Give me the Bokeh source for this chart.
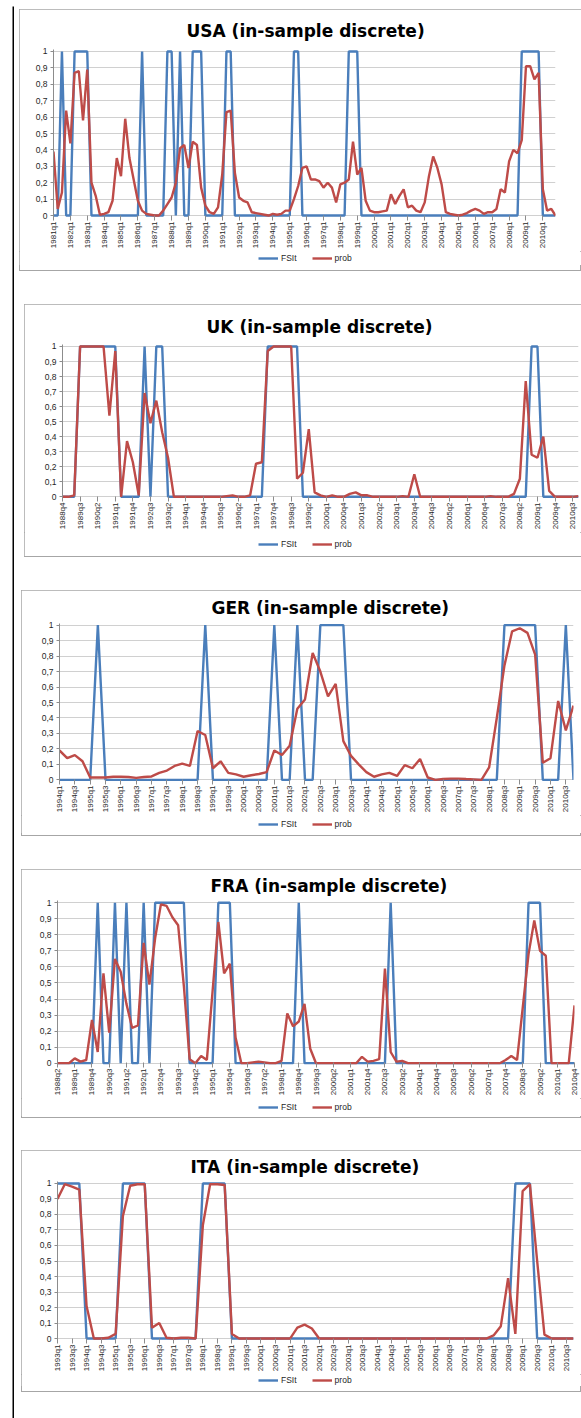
import math
from bokeh.plotting import figure
from bokeh.models import (Range1d, FixedTicker, CustomJSTickFormatter, Legend,
                          LegendItem, ColumnDataSource, Spacer)
from bokeh.layouts import column, row
from bokeh.embed import file_html
from bokeh.resources import INLINE

# ---------------- data ----------------
usa_start = (1981, 1)
usa_prob = [0.39, 0.04, 0.14, 0.64, 0.44, 0.87, 0.88, 0.58, 0.89, 0.20,
            0.12, 0.005, 0.01, 0.02, 0.09, 0.35, 0.24, 0.59, 0.35, 0.22,
            0.09, 0.03, 0.01, 0.005, 0.0, 0.0, 0.03, 0.07, 0.11, 0.20,
            0.41, 0.43, 0.29, 0.45, 0.43, 0.17, 0.06, 0.02, 0.01, 0.05,
            0.25, 0.63, 0.64, 0.26, 0.11, 0.09, 0.08, 0.02, 0.015, 0.01,
            0.005, 0.0, 0.01, 0.005, 0.01, 0.03, 0.03, 0.10, 0.18, 0.29,
            0.30, 0.22, 0.22, 0.21, 0.17, 0.20, 0.17, 0.08, 0.19, 0.20,
            0.22, 0.45, 0.25, 0.29, 0.09, 0.03, 0.02, 0.02, 0.025, 0.03,
            0.13, 0.07, 0.12, 0.16, 0.05, 0.06, 0.03, 0.02, 0.08, 0.24,
            0.36, 0.29, 0.19, 0.02, 0.01, 0.005, 0.0, 0.005, 0.015, 0.03,
            0.04, 0.03, 0.01, 0.02, 0.02, 0.04, 0.16, 0.14, 0.33, 0.40,
            0.38, 0.46, 0.91, 0.91, 0.83, 0.87, 0.16, 0.03, 0.04, 0.0]
usa_fsi = [0, 0, 1, 0, 0, 1, 1, 1, 1, 0,
           0, 0, 0, 0, 0, 0, 0, 0, 0, 0,
           0, 1, 0, 0, 0, 0, 0, 1, 1, 0,
           1, 0, 0, 1, 1, 1, 0, 0, 0, 0,
           0, 1, 1, 0, 0, 0, 0, 0, 0, 0,
           0, 0, 0, 0, 0, 0, 0, 1, 1, 0,
           0, 0, 0, 0, 0, 0, 0, 0, 0, 0,
           1, 1, 1, 0, 0, 0, 0, 0, 0, 0,
           0, 0, 0, 0, 0, 0, 0, 0, 0, 0,
           0, 0, 0, 0, 0, 0, 0, 0, 0, 0,
           0, 0, 0, 0, 0, 0, 0, 0, 0, 0,
           0, 1, 1, 1, 1, 1, 0, 0, 0, 0]

uk_start = (1988, 4)
uk_prob = [0, 0, 0.01, 1, 1, 1, 1, 1, 0.54, 0.97,
           0, 0.37, 0.23, 0.01, 0.69, 0.49, 0.64, 0.43, 0.26, 0,
           0, 0, 0, 0, 0, 0, 0, 0, 0.005, 0.01,
           0, 0, 0.01, 0.22, 0.23, 0.97, 1, 1, 1, 1,
           0.12, 0.16, 0.45, 0.03, 0.01, 0, 0.01, 0, 0, 0.02,
           0.03, 0.01, 0.01, 0, 0, 0, 0, 0, 0.005, 0,
           0.15, 0, 0, 0, 0, 0, 0, 0, 0, 0,
           0, 0, 0, 0.005, 0, 0, 0, 0.02, 0.12, 0.77,
           0.28, 0.26, 0.40, 0.04, 0, 0, 0, 0, 0.005]
uk_fsi = [0, 0, 0, 1, 1, 1, 1, 1, 1, 1,
          0, 0, 0, 0, 1, 0, 1, 1, 0, 0,
          0, 0, 0, 0, 0, 0, 0, 0, 0, 0,
          0, 0, 0, 0, 0, 1, 1, 1, 1, 1,
          1, 0, 0, 0, 0, 0, 0, 0, 0, 0,
          0, 0, 0, 0, 0, 0, 0, 0, 0, 0,
          0, 0, 0, 0, 0, 0, 0, 0, 0, 0,
          0, 0, 0, 0, 0, 0, 0, 0, 0, 0,
          1, 1, 0, 0, 0, 0, 0, 0, 0]

ger_start = (1994, 1)
ger_prob = [0.19, 0.14, 0.16, 0.12, 0.015, 0.015, 0.015, 0.02, 0.02, 0.018,
            0.013, 0.018, 0.022, 0.045, 0.06, 0.09, 0.105, 0.09, 0.315, 0.29,
            0.075, 0.12, 0.045, 0.035, 0.02, 0.03, 0.038, 0.05, 0.19, 0.16,
            0.22, 0.46, 0.52, 0.82, 0.70, 0.54, 0.62, 0.25, 0.155, 0.10,
            0.05, 0.02, 0.035, 0.045, 0.025, 0.095, 0.075, 0.135, 0.015, 0.0,
            0.005, 0.008, 0.008, 0.005, 0.003, 0.0, 0.08, 0.40, 0.74, 0.96,
            0.98, 0.95, 0.81, 0.11, 0.14, 0.51, 0.32, 0.48]
ger_fsi = [0, 0, 0, 0, 0, 1, 0, 0, 0, 0,
           0, 0, 0, 0, 0, 0, 0, 0, 0, 1,
           0, 0, 0, 0, 0, 0, 0, 0, 1, 0,
           0, 1, 0, 0, 1, 1, 1, 1, 0, 0,
           0, 0, 0, 0, 0, 0, 0, 0, 0, 0,
           0, 0, 0, 0, 0, 0, 0, 0, 1, 1,
           1, 1, 1, 0, 0, 0, 1, 0]

fra_start = (1988, 2)
fra_prob = [0, 0, 0, 0.03, 0.01, 0.02, 0.27, 0.07, 0.56, 0.19,
            0.65, 0.57, 0.37, 0.22, 0.235, 0.75, 0.49, 0.78, 0.99, 0.98,
            0.91, 0.86, 0.48, 0.025, 0.0, 0.045, 0.02, 0.45, 0.88, 0.56,
            0.62, 0.16, 0, 0, 0.005, 0.01, 0.005, 0, 0, 0.015,
            0.31, 0.23, 0.26, 0.37, 0.09, 0, 0, 0, 0, 0,
            0, 0, 0, 0.04, 0.01, 0.015, 0.025, 0.59, 0.07, 0.01,
            0.015, 0, 0, 0, 0, 0, 0, 0, 0, 0,
            0, 0, 0, 0, 0, 0, 0, 0, 0.02, 0.045,
            0.02, 0.35, 0.68, 0.89, 0.70, 0.67, 0, 0, 0, 0, 0.36]
fra_fsi = [0, 0, 0, 0, 0, 0, 0, 1, 0, 0,
           1, 0, 1, 0, 0, 1, 0, 1, 1, 1,
           1, 1, 1, 0, 0, 0, 0, 0, 1, 1,
           1, 0, 0, 0, 0, 0, 0, 0, 0, 0,
           0, 0, 1, 0, 0, 0, 0, 0, 0, 0,
           0, 0, 0, 0, 0, 0, 0, 0, 1, 0,
           0, 0, 0, 0, 0, 0, 0, 0, 0, 0,
           0, 0, 0, 0, 0, 0, 0, 0, 0, 0,
           0, 0, 1, 1, 1, 0, 0, 0, 0, 0, 0]

ita_start = (1993, 1)
ita_prob = [0.90, 0.995, 0.98, 0.96, 0.21, 0, 0, 0.005, 0.03, 0.79,
            0.985, 0.995, 0.995, 0.07, 0.10, 0.005, 0, 0.005, 0.005, 0,
            0.73, 0.995, 0.995, 0.99, 0.03, 0, 0, 0, 0, 0,
            0, 0, 0, 0.07, 0.09, 0.065, 0, 0, 0, 0,
            0, 0, 0, 0, 0, 0, 0, 0, 0, 0,
            0, 0, 0, 0, 0, 0, 0, 0, 0, 0,
            0.02, 0.08, 0.39, 0.03, 0.95, 0.995, 0.5, 0.025, 0, 0,
            0, 0]
ita_fsi = [1, 1, 1, 1, 0, 0, 0, 0, 0, 1,
           1, 1, 1, 0, 0, 0, 0, 0, 0, 0,
           1, 1, 1, 1, 0, 0, 0, 0, 0, 0,
           0, 0, 0, 0, 0, 0, 0, 0, 0, 0,
           0, 0, 0, 0, 0, 0, 0, 0, 0, 0,
           0, 0, 0, 0, 0, 0, 0, 0, 0, 0,
           0, 0, 0, 1, 1, 1, 0, 0, 0, 0,
           0, 0]

series_names = ["FSIt", "prob"]
y_ticks = [0, 0.1, 0.2, 0.3, 0.4, 0.5, 0.6, 0.7, 0.8, 0.9, 1]

# ---------------- style / layout ----------------
W = 581
BLUE = "#4a7ebb"
RED = "#be4b48"
FONT = "Liberation Sans"
TXT = "#262626"
GRID = "#d0d0d0"
AXIS = "#8c8c8c"
BOTTOM = 32          # room for rotated tick labels
LEG_LEFT = 258       # page x where the legend starts


def quarters(year, q, n):
    out = []
    for _ in range(n):
        out.append(f"{year}q{q}")
        q += 1
        if q > 4:
            q = 1
            year += 1
    return out


def black_bar(w, h):
    f = figure(width=w, height=h, output_backend="svg", toolbar_location=None,
               min_border=0, x_range=Range1d(0, 1), y_range=Range1d(0, 1))
    f.axis.visible = False
    f.grid.visible = False
    f.outline_line_color = None
    f.background_fill_color = "black"
    f.border_fill_color = "black"
    return f


def panel(title, start, prob, fsi, step, g):
    """g: geometry in page pixels."""
    n = len(prob)
    cats = quarters(start[0], start[1], n)
    bl, bt, bb = g["box"]               # chart-area box left, top, bottom
    bw = W - bl
    x0, x1, y1, y0 = g["x0"], g["x1"], g["y1"], g["y0"]
    k = y0 - y1
    ft, fb = g["ft"], g["fb"]           # frame top / bottom (page px)
    ch = fb + BOTTOM - bt               # chart figure height

    p = figure(width=bw, height=ch, output_backend="svg", toolbar_location=None,
               x_range=Range1d(0, n - 1),
               y_range=Range1d(-(fb - y0) / k, 1 + (y1 - ft) / k),
               min_border_left=x0 - bl, min_border_right=W - x1,
               min_border_top=ft - bt, min_border_bottom=BOTTOM)
    p.outline_line_color = None
    p.background_fill_color = "white"
    p.border_fill_color = "white"

    src = ColumnDataSource(dict(x=list(range(n)), fsi=fsi, prob=prob))
    p.line("x", "fsi", source=src, line_color=BLUE, line_width=2.4)
    p.line("x", "prob", source=src, line_color=RED, line_width=2.4)

    p.title.text = title
    p.title.align = "left"
    p.title.text_font = "DejaVu Sans"
    p.title.text_font_style = "bold"
    p.title.text_font_size = "17px"
    p.title.text_color = "black"
    p.title.standoff = g["standoff"]
    p.title.offset = g["toff"]

    xa = p.xaxis[0]
    xa.ticker = FixedTicker(ticks=list(range(0, n, step)), minor_ticks=[])
    xa.major_label_overrides = {i: cats[i] for i in range(0, n, step)}
    xa.major_label_orientation = math.pi / 2
    xa.major_label_text_font = FONT
    xa.major_label_text_font_size = "8px"
    xa.major_label_text_color = TXT
    xa.major_label_standoff = 1
    xa.major_tick_out = 3
    xa.major_tick_in = 2
    xa.minor_tick_out = 0
    xa.minor_tick_in = 0
    xa.axis_line_color = None
    xa.major_tick_line_color = AXIS

    ya = p.yaxis[0]
    ya.ticker = FixedTicker(ticks=y_ticks, minor_ticks=[])
    ya.formatter = CustomJSTickFormatter(code="""
        if (Math.abs(tick) < 1e-6) return '0';
        if (Math.abs(tick - 1) < 1e-6) return '1';
        return tick.toFixed(1).replace('.', ',');
    """)
    ya.major_label_text_font = FONT
    ya.major_label_text_font_size = "8.5px"
    ya.major_label_text_color = TXT
    ya.major_label_standoff = 3
    ya.major_tick_out = 3
    ya.major_tick_in = 0
    ya.minor_tick_out = 0
    ya.minor_tick_in = 0
    ya.axis_line_color = AXIS
    ya.major_tick_line_color = AXIS

    p.xgrid.visible = False
    p.ygrid.ticker = FixedTicker(ticks=y_ticks)
    p.ygrid.grid_line_color = GRID
    p.ygrid.grid_line_width = 1

    # legend strip under the axis labels (its frame is aligned with the chart frame)
    chart_bottom = fb + BOTTOM
    lh = 2 * (g["lc"] - chart_bottom)
    lf = figure(width=bw, height=lh, output_backend="svg", toolbar_location=None,
                min_border_top=0, min_border_bottom=0,
                min_border_left=x0 - bl, min_border_right=W - x1,
                x_range=Range1d(0, n - 1), y_range=Range1d(10, 11))
    lf.axis.visible = False
    lf.grid.visible = False
    lf.outline_line_color = None
    lf.background_fill_color = "white"
    lf.border_fill_color = "white"
    d1 = lf.line("x", "fsi", source=src, line_color=BLUE, line_width=2.4)
    d2 = lf.line("x", "prob", source=src, line_color=RED, line_width=2.4)
    lf.add_layout(Legend(items=[LegendItem(label=series_names[0], renderers=[d1]),
                                LegendItem(label=series_names[1], renderers=[d2])],
                         orientation="horizontal", location=(LEG_LEFT - x0, (lh - 10) / 2),
                         label_text_font=FONT, label_text_font_size="8.5px",
                         label_text_color=TXT, glyph_width=20, glyph_height=10,
                         label_height=10, label_width=15, label_standoff=3,
                         spacing=15, padding=0, margin=0,
                         border_line_color=None, background_fill_alpha=0), "center")
    rest = bb - chart_bottom - lh
    box = column(p, lf, Spacer(width=bw, height=max(rest, 1)), spacing=0,
                 styles={"outline": "1px solid #a6a6a6", "outline-offset": "-1px"})
    return box, bl


geoms = [
    dict(title="USA (in-sample discrete)", start=usa_start, prob=usa_prob, fsi=usa_fsi, step=4,
         g=dict(box=(19, 9, 271), x0=53, x1=555, y1=51, y0=217, ft=49, fb=219,
                lc=258, standoff=17, toff=133), gap=30),
    dict(title="UK (in-sample discrete)", start=uk_start, prob=uk_prob, fsi=uk_fsi, step=3,
         g=dict(box=(24, 304, 557), x0=62, x1=578, y1=346, y0=498.3, ft=344, fb=500,
                lc=544, standoff=15, toff=144), gap=30),
    dict(title="GER (in-sample discrete)", start=ger_start, prob=ger_prob, fsi=ger_fsi, step=2,
         g=dict(box=(21, 590, 836), x0=59, x1=573, y1=622.7, y0=781.3, ft=621, fb=783,
                lc=824, standoff=10.5, toff=152), gap=30),
    dict(title="FRA (in-sample discrete)", start=fra_start, prob=fra_prob, fsi=fra_fsi, step=3,
         g=dict(box=(21, 869, 1118), x0=57, x1=574, y1=900.3, y0=1064.7, ft=898, fb=1066,
                lc=1107, standoff=8.5, toff=153), gap=29),
    dict(title="ITA (in-sample discrete)", start=ita_start, prob=ita_prob, fsi=ita_fsi, step=2,
         g=dict(box=(21, 1150, 1392), x0=57, x1=573, y1=1180, y0=1340, ft=1178, fb=1342,
                lc=1380, standoff=8.5, toff=133), gap=26),
]

LEFT = 14            # x where the content column starts (after the black rule)
items = []
for d in geoms:
    box, bl = panel(d["title"], d["start"], d["prob"], d["fsi"], d["step"], d["g"])
    items.append(black_bar(W - LEFT, 2))
    items.append(Spacer(width=W - LEFT, height=1))
    items.append(row(Spacer(width=bl - LEFT, height=10), box, spacing=0))
    items.append(Spacer(width=W - LEFT, height=d["gap"]))

content = column(*items, spacing=0)
page = column(Spacer(width=W, height=6),
              row(Spacer(width=12, height=1412), black_bar(2, 1412), content, spacing=0),
              spacing=0)
open("out.html", "w").write(file_html(page, INLINE))
